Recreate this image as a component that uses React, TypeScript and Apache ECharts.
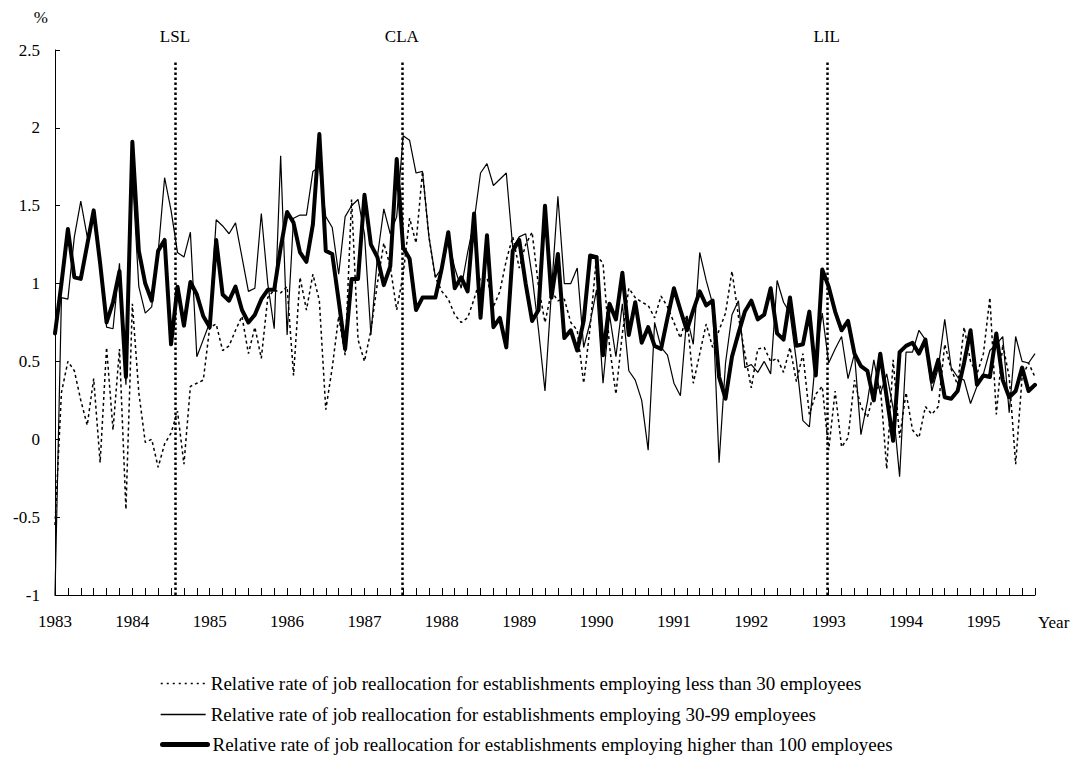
import React, { useEffect, useRef } from "react";
import * as echarts from "echarts";

// Months since January 1983 (index 0 = Jan 1983)
const startYear = 1983;
const yearTicks = [1983, 1984, 1985, 1986, 1987, 1988, 1989, 1990, 1991, 1992, 1993, 1994, 1995];

const seriesNames = [
  "Relative rate of job reallocation for establishments employing less than 30 employees",
  "Relative rate of job reallocation for establishments employing 30-99 employees",
  "Relative rate of job reallocation for establishments employing higher than 100 employees",
];

const lessThan30 = [
  -0.55, 0.3, 0.5, 0.44, 0.25, 0.09, 0.39, -0.15, 0.59, 0.06, 0.58, -0.45, 0.87, 0.3, -0.02, 0.0, -0.18, -0.03, 0.04, 0.18,
  -0.16, 0.34, 0.36, 0.38, 0.72, 0.74, 0.57, 0.6, 0.7, 0.79, 0.55, 0.72, 0.52, 0.91, 0.96, 0.94, 0.98, 0.41, 1.04, 0.83,
  1.06, 0.89, 0.19, 0.46, 0.79, 0.54, 1.54, 0.64, 0.5, 0.7, 1.0, 1.26, 1.11, 0.83, 1.06, 1.42, 1.26, 1.72, 1.3, 1.04,
  0.95, 0.9, 0.8, 0.75, 0.78, 0.9, 1.04, 1.04, 0.85, 0.95, 1.15, 1.3, 1.1, 1.25, 1.33, 0.98, 0.75, 0.95, 0.89, 0.9,
  0.75, 0.7, 0.36, 0.72, 1.18, 1.13, 0.6, 0.29, 0.68, 0.97, 0.91, 0.88, 0.86, 0.78, 0.92, 0.85, 0.75, 0.65, 0.8, 0.36,
  0.55, 0.74, 0.59, 0.7, 0.81, 1.08, 0.79, 0.55, 0.33, 0.58, 0.59, 0.5, 0.52, 0.43, 0.59, 0.37, 0.55, 0.16, 0.29, 0.34,
  -0.07, 0.31, -0.05, 0.01, 0.38, 0.21, 0.14, 0.3, 0.35, -0.19, 0.51, 0.01, 0.3, 0.06, 0.01, 0.21, 0.16, 0.21, 0.61, 0.45,
  0.35, 0.72, 0.5, 0.42, 0.55, 0.91, 0.16, 0.61, 0.4, -0.16, 0.4, 0.49, 0.4,
];

const from30to99 = [
  -1.0, 0.91, 0.9, 1.3, 1.53, 1.3, 1.45, 1.15, 0.72, 0.71, 1.13, 0.35, 1.7, 0.98, 0.81, 0.85, 1.2, 1.68, 1.47, 1.2,
  1.17, 1.33, 0.53, 0.64, 0.75, 1.41, 1.37, 1.32, 1.39, 1.17, 0.95, 0.97, 1.45, 1.0, 0.71, 1.82, 0.67, 1.42, 1.44, 1.44,
  1.72, 1.75, 1.43, 1.36, 1.06, 1.43, 1.5, 1.54, 1.32, 0.67, 1.17, 1.48, 1.32, 1.43, 1.95, 1.92, 1.71, 1.72, 1.3, 1.04,
  1.1, 1.28, 1.1, 0.97, 1.2, 1.4, 1.71, 1.77, 1.63, 1.67, 1.71, 1.23, 1.3, 1.32, 1.05, 0.7, 0.31, 0.95, 1.56, 1.0,
  1.0, 1.1, 0.59, 0.75, 0.96, 0.36, 0.8, 0.53, 0.87, 0.44, 0.38, 0.25, -0.07, 0.75, 0.59, 0.54, 0.36, 0.28, 0.79, 0.61,
  1.2, 1.02, 0.87, -0.15, 0.49, 0.8, 0.89, 0.46, 0.48, 0.43, 0.5, 0.42, 1.02, 0.88, 0.81, 0.5, 0.12, 0.08, 0.53, 0.81,
  0.49, 0.58, 0.66, 0.39, 0.55, 0.03, 0.24, 0.51, 0.29, 0.42, 0.2, -0.24, 0.56, 0.56, 0.7, 0.64, 0.31, 0.46, 0.77, 0.46,
  0.4, 0.38, 0.23, 0.34, 0.42, 0.57, 0.61, 0.66, 0.17, 0.66, 0.5, 0.49, 0.55,
];

const over100 = [
  0.68, 1.0, 1.35, 1.04, 1.03, 1.25, 1.47, 1.13, 0.75, 0.88, 1.08, 0.4, 1.91, 1.21, 1.0, 0.89, 1.21, 1.28, 0.61, 0.98,
  0.73, 1.01, 0.93, 0.79, 0.72, 1.28, 0.93, 0.89, 0.98, 0.83, 0.75, 0.8, 0.9, 0.96, 0.96, 1.23, 1.46, 1.39, 1.2, 1.14,
  1.38, 1.96, 1.21, 1.19, 0.89, 0.58, 1.03, 1.03, 1.57, 1.25, 1.17, 0.99, 1.11, 1.8, 1.23, 1.16, 0.83, 0.91, 0.91, 0.91,
  1.1, 1.33, 0.97, 1.04, 0.95, 1.45, 0.78, 1.31, 0.72, 0.78, 0.59, 1.21, 1.28, 1.0, 0.76, 0.83, 1.5, 0.91, 1.19, 0.65,
  0.7, 0.57, 0.76, 1.18, 1.17, 0.54, 0.87, 0.77, 1.07, 0.67, 0.88, 0.62, 0.72, 0.6, 0.58, 0.78, 0.97, 0.83, 0.7, 0.83,
  0.95, 0.86, 0.89, 0.4, 0.26, 0.53, 0.68, 0.82, 0.89, 0.77, 0.8, 0.97, 0.68, 0.64, 0.91, 0.6, 0.61, 0.82, 0.41, 1.09,
  0.98, 0.82, 0.7, 0.76, 0.55, 0.47, 0.44, 0.25, 0.55, 0.27, -0.01, 0.56, 0.6, 0.62, 0.55, 0.64, 0.37, 0.51, 0.27, 0.26,
  0.31, 0.49, 0.7, 0.35, 0.41, 0.4, 0.68, 0.38, 0.27, 0.31, 0.46, 0.31, 0.35,
];

// Policy events, in months since Jan 1983
const eventNames = ["LSL", "CLA", "LIL"];
const eventMonths = [18.6, 53.8, 119.7];
const eventTop = 2.43;

const FONT = "'Liberation Serif', 'Times New Roman', serif";

export default function App() {
  const ref = useRef<HTMLDivElement>(null);

  useEffect(() => {
    if (!ref.current) return;
    const chart = echarts.init(ref.current, null, { renderer: "svg" });
    const toPairs = (arr: number[]) => arr.map((v, i) => [i, v]);
    const lastMonth = over100.length - 1;
    const legendTops = [674, 705, 735];
    const styles: any[] = [
      { color: "#000", width: 1.5, type: [3, 3] },
      { color: "#000", width: 1.2, type: "solid" },
      { color: "#000", width: 4, type: "solid", join: "round", cap: "round" },
    ];
    const legendStyles: any[] = [
      { color: "#000", width: 1.5, type: [2, 4] },
      { color: "#000", width: 1.3, type: "solid" },
      { color: "#000", width: 5, type: "solid", cap: "round" },
    ];

    const option: any = {
      animation: false,
      backgroundColor: "#ffffff",
      textStyle: { fontFamily: FONT, color: "#000" },
      grid: { left: 55, right: 43, top: 50, bottom: 165, containLabel: false, outerBoundsMode: "none" },
      xAxis: {
        type: "value",
        min: 0,
        max: lastMonth,
        interval: 2,
        name: "Year",
        nameLocation: "end",
        nameGap: 3,
        nameTextStyle: { fontFamily: FONT, fontSize: 17, color: "#000", verticalAlign: "top", padding: [19, 0, 0, 0] },
        axisLine: { show: true, onZero: false, lineStyle: { color: "#000", width: 1 } },
        axisTick: { show: true, inside: true, length: 7, lineStyle: { color: "#000", width: 1 } },
        splitLine: { show: false },
        axisLabel: {
          margin: 18,
          fontFamily: FONT,
          fontSize: 17,
          color: "#000",
          showMinLabel: true,
          showMaxLabel: true,
          hideOverlap: false,
          formatter: (v: number) => {
            if (v % 12 !== 0) return "";
            const y = startYear + v / 12;
            return yearTicks.includes(y) ? String(y) : "";
          },
        },
      },
      yAxis: {
        type: "value",
        min: -1,
        max: 2.5,
        interval: 0.5,
        name: "%",
        nameLocation: "end",
        nameGap: 24,
        nameTextStyle: { fontFamily: FONT, fontSize: 17, color: "#000", align: "right", padding: [0, 7, 0, 0] },
        axisLine: { show: true, lineStyle: { color: "#000", width: 1 } },
        axisTick: { show: true, inside: true, length: 5, lineStyle: { color: "#000", width: 1 } },
        splitLine: { show: false },
        axisLabel: { margin: 15, fontFamily: FONT, fontSize: 17, color: "#000" },
      },
      legend: seriesNames.map((n, k) => ({
        orient: "horizontal",
        left: 160,
        top: legendTops[k],
        padding: 0,
        itemWidth: 45,
        itemHeight: 14,
        itemStyle: { opacity: 0 },
        lineStyle: legendStyles[k],
        textStyle: { fontFamily: FONT, fontSize: 19, color: "#000" },
        data: [n],
      })),
      series: [
        {
          name: seriesNames[0],
          type: "line",
          data: toPairs(lessThan30),
          symbol: "none",
          lineStyle: styles[0],
          itemStyle: { color: "#000" },
          z: 2,
        },
        {
          name: seriesNames[1],
          type: "line",
          data: toPairs(from30to99),
          symbol: "none",
          lineStyle: styles[1],
          itemStyle: { color: "#000" },
          z: 3,
        },
        {
          name: seriesNames[2],
          type: "line",
          data: toPairs(over100),
          symbol: "none",
          lineStyle: styles[2],
          itemStyle: { color: "#000" },
          z: 4,
          markLine: {
            silent: true,
            symbol: "none",
            lineStyle: { color: "#000", width: 2.5, type: [2.5, 2.5] },
            label: {
              show: true,
              position: "end",
              distance: 16,
              fontFamily: FONT,
              fontSize: 17,
              color: "#000",
              formatter: (p: any) => p.name,
            },
            data: eventNames.map((n, k) => [
              { name: n, coord: [eventMonths[k], -1] },
              { coord: [eventMonths[k], eventTop] },
            ]),
          },
        },
      ],
    };

    chart.setOption(option);
    return () => chart.dispose();
  }, []);

  return (
    <div
      ref={ref}
      style={{ position: "fixed", left: 0, top: 0, width: 1078, height: 760, background: "#fff" }}
    />
  );
}
